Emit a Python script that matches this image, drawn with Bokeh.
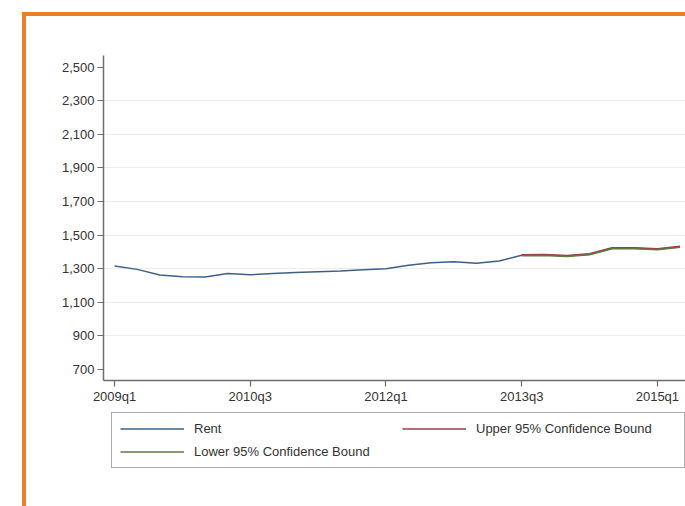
from bokeh.plotting import figure
from bokeh.layouts import column
from bokeh.models import Range1d, FixedTicker, NumeralTickFormatter, Legend, LegendItem
from bokeh.embed import file_html
from bokeh.resources import INLINE

quarters = ["2009q1", "2009q2", "2009q3", "2009q4",
            "2010q1", "2010q2", "2010q3", "2010q4",
            "2011q1", "2011q2", "2011q3", "2011q4",
            "2012q1", "2012q2", "2012q3", "2012q4",
            "2013q1", "2013q2", "2013q3", "2013q4",
            "2014q1", "2014q2", "2014q3", "2014q4",
            "2015q1", "2015q2"]
rent = [1316, 1296, 1262, 1252, 1250, 1272, 1264, 1272, 1278, 1282, 1286, 1294,
        1300, 1320, 1336, 1342, 1332, 1346, 1380, 1382, 1376, 1386, 1422, 1422,
        1416, 1430]
forecast_quarters = ["2013q3", "2013q4", "2014q1", "2014q2", "2014q3", "2014q4",
                     "2015q1", "2015q2"]
upper = [1383, 1385, 1379, 1389, 1425, 1425, 1419, 1433]
lower = [1377, 1379, 1373, 1383, 1419, 1419, 1413, 1427]
y_ticks = [700, 900, 1100, 1300, 1500, 1700, 1900, 2100, 2300, 2500]
grid_ticks = [900, 1100, 1300, 1500, 1700, 1900, 2100, 2300]
x_tick_labels = ["2009q1", "2010q3", "2012q1", "2013q3", "2015q1"]
series_names = ["Rent", "Upper 95% Confidence Bound", "Lower 95% Confidence Bound"]

x_rent = [quarters.index(q) for q in quarters]
x_fc = [quarters.index(q) for q in forecast_quarters]
x_ticks = [quarters.index(q) for q in x_tick_labels]

FONT = "Liberation Sans"
TXT = "#333333"
AX = "#6e6e6e"
ORANGE = "#ec7f24"
COLORS = ["#3f5f86", "#9a3d4c", "#5f7a3e"]


def add_series(fig):
    r0 = fig.line(x_rent, rent, line_color=COLORS[0], line_width=1.5)
    r1 = fig.line(x_fc, upper, line_color=COLORS[1], line_width=1.5)
    r2 = fig.line(x_fc, lower, line_color=COLORS[2], line_width=1.5)
    return [r0, r1, r2]


p = figure(width=663, height=392, output_backend="svg", toolbar_location=None,
           x_range=Range1d(-0.49, 25.42), y_range=Range1d(634, 2570),
           min_border_left=77, min_border_top=39, min_border_right=0,
           min_border_bottom=28)
p.styles = {"border-top": "4px solid " + ORANGE, "border-left": "4px solid " + ORANGE}
p.outline_line_color = None
p.background_fill_color = "white"
p.border_fill_color = "white"
add_series(p)

p.xgrid.visible = False
p.ygrid.ticker = FixedTicker(ticks=grid_ticks)
p.ygrid.grid_line_color = "#ececec"
p.ygrid.grid_line_width = 1

p.yaxis.ticker = FixedTicker(ticks=y_ticks)
p.yaxis.formatter = NumeralTickFormatter(format="0,0")
p.xaxis.ticker = FixedTicker(ticks=x_ticks)
p.xaxis.major_label_overrides = {t: l for t, l in zip(x_ticks, x_tick_labels)}

for ax in (p.xaxis, p.yaxis):
    ax.axis_line_color = AX
    ax.axis_line_width = 1.5
    ax.major_tick_line_color = AX
    ax.major_tick_line_width = 1.2
    ax.major_tick_out = 6
    ax.major_tick_in = 0
    ax.minor_tick_line_color = None
    ax.major_label_text_font = FONT
    ax.major_label_text_font_size = "13px"
    ax.major_label_text_color = TXT
p.yaxis.major_label_standoff = 3
p.xaxis.major_label_standoff = 2

# legend strip below the chart (series kept out of its view; only the legend shows)
pl = figure(width=663, height=102, output_backend="svg", toolbar_location=None,
            x_axis_location=None, y_axis_location=None,
            x_range=Range1d(-0.49, 25.42), y_range=Range1d(0, 1),
            min_border_left=77, min_border_top=0, min_border_right=0,
            min_border_bottom=0)
pl.styles = {"border-left": "4px solid " + ORANGE}
pl.grid.visible = False
pl.outline_line_color = None
pl.background_fill_color = "white"
pl.border_fill_color = "white"
proxies = add_series(pl)

legend = Legend(items=[LegendItem(label=n, renderers=[r]) for n, r in zip(series_names, proxies)],
                orientation="horizontal", ncols=2, location="top_left")
legend.margin = 8
legend.padding = 8
legend.spacing = 8
legend.glyph_width = 64
legend.glyph_height = 15
legend.label_standoff = 10
legend.label_width = 200
legend.label_text_font = FONT
legend.label_text_font_size = "13px"
legend.label_text_color = TXT
legend.border_line_color = "#5a5a5a"
legend.border_line_width = 1.5
legend.background_fill_color = "white"
legend.background_fill_alpha = 1
pl.add_layout(legend)

layout = column(p, pl, spacing=0)
layout.margin = (12, 0, 0, 22)

open("out.html", "w").write(file_html(layout, INLINE))
